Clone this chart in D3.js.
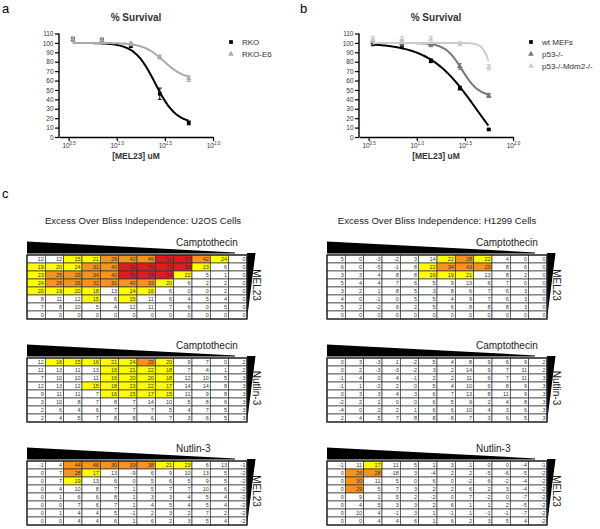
<!DOCTYPE html>
<html lang="en">
  <head>
    <meta charset="UTF-8" />
    <title>MEL23 survival and Bliss excess</title>
    <script src="https://d3js.org/d3.v7.min.js"></script>
    <style>
      body { margin: 0; background: #fff; }
      text { font-family: "Liberation Sans", Arial, sans-serif; }
    </style>
  </head>
  <body>
    <svg width="600" height="529" id="fig"></svg>

    <script>
      // ---- dose response data (uM, % survival) ----
      const conc = [3.5, 7, 14, 28, 56];
      const xTicks = [0.5, 1.0, 1.5, 2.0]; // log10 tick positions
      const yTicks = d3.range(0, 111, 10);

      const panelANames = ["RKO", "RKO-E6"];
      const rkoMean = [104, 103, 97, 46, 15];
      const rkoErr = [2, 2, 2, 6, 2];
      const rkoE6Mean = [104, 103, 99, 85, 62];
      const rkoE6Err = [2, 2, 2, 2, 3];

      const panelBNames = ["wt MEFs", "p53-/-", "p53-/-Mdm2-/-"];
      const wtMean = [99, 96, 81, 52, 8];
      const wtErr = [2, 2, 2, 2, 1];
      const p53Mean = [101, 100, 98, 75, 44];
      const p53Err = [3, 3, 2, 3, 2];
      const dkoMean = [104, 104, 104, 99, 74];
      const dkoErr = [3, 3, 3, 2, 3];

      // sigmoidal fit parameters per series: top, bottom, logEC50, hill
      const rkoFit = [100, 14, 1.4, 4];
      const rkoE6Fit = [100, 61, 1.49, 4.1];
      const wtFit = [100, -40, 1.617, 1.78];
      const p53Fit = [100, 43, 1.47, 5];
      const dkoFit = [100, 0, 1.81, 9.5];

      // ---- Excess over Bliss tables (8 rows x 12 cols) ----
      const u2osCampMel = [
        [12, 12, 15, 21, 26, 42, 49, 51, 57, 42, 24, 0],
        [19, 20, 24, 31, 40, 52, 70, 73, 58, 23, 6, 0],
        [23, 25, 29, 34, 40, 51, 59, 54, 22, 5, 1, 0],
        [24, 26, 26, 32, 31, 40, 33, 20, 6, 2, 2, 0],
        [20, 19, 20, 18, 13, 24, 16, 6, 0, 0, 2, 0],
        [8, 11, 12, 15, 6, 15, 11, 6, 4, 5, 4, 0],
        [7, 8, 10, 5, 4, 12, 11, 7, 6, 0, 5, 0],
        [0, 0, 0, 0, 0, 0, 0, 0, 0, 0, 0, 0]
      ];
      const u2osCampNut = [
        [12, 16, 15, 16, 21, 24, 25, 20, 9, 7, 0, 2],
        [11, 13, 11, 13, 16, 21, 22, 18, 7, 4, 1, 2],
        [7, 10, 10, 11, 16, 20, 20, 18, 12, 10, 5, 3],
        [12, 13, 12, 15, 18, 23, 22, 17, 14, 14, 8, 3],
        [9, 11, 11, 7, 16, 15, 17, 15, 11, 9, 8, 3],
        [3, 10, 8, 7, 8, 7, 14, 10, 5, 8, 6, 3],
        [2, 6, 4, 6, 7, 7, 7, 5, 4, 7, 5, 3],
        [2, 4, 5, 7, 8, 8, 6, 7, 3, 6, 5, 3]
      ];
      const u2osNutMel = [
        [-1, 4, 44, 46, 30, 33, 38, 21, 23, 6, 13, -1],
        [0, 7, 28, 17, 13, -9, 6, 9, 10, 13, 5, -2],
        [0, 7, 19, 13, 6, 0, 5, 6, 5, 9, 5, -2],
        [0, 4, 10, 8, 7, 1, 5, 7, 7, 10, 6, -2],
        [0, 1, 6, 6, 8, 1, 3, 3, 4, 5, 4, -2],
        [0, 0, 7, 6, 7, 1, 4, 5, 4, 5, 4, -2],
        [0, 1, 4, 4, 5, -1, 2, 3, 2, 7, 2, -2],
        [0, 0, 4, 4, 6, 1, 6, 2, 3, 5, 4, -2]
      ];
      const h1299CampMel = [
        [5, 0, -3, -2, 3, 14, 22, 28, 22, 4, 0, 0],
        [6, 0, -5, -1, 8, 22, 34, 43, 29, 8, 6, 0],
        [3, 3, 4, 8, 8, 16, 19, 21, 13, 8, 2, 0],
        [5, 4, 4, 7, 6, 5, 9, 13, 6, 7, 0, 0],
        [3, 2, 1, 8, 5, 3, 8, 6, 7, 6, 3, 0],
        [4, 0, -1, 0, 5, 5, 4, 9, 7, 6, 3, 0],
        [5, 2, -2, 6, 2, 5, 6, 8, 8, 8, 3, 0],
        [0, 0, 0, 0, 0, 0, 0, 0, 0, 0, 0, 0]
      ];
      const h1299CampNut = [
        [0, 3, -3, 1, -2, 5, 4, 8, 9, 6, 9, 2],
        [0, 2, -3, -3, -2, 3, 2, 14, 9, 7, 11, 2],
        [-1, 4, 0, 4, -1, 2, 2, 11, 6, 7, 11, 3],
        [-1, 1, -2, 2, 0, 5, 4, 10, 6, 8, 9, 3],
        [0, 3, 3, 4, 3, 6, 7, 13, 8, 11, 9, 3],
        [-2, 2, 1, 0, 0, 6, 5, 9, 2, 4, 8, 3],
        [-4, 0, 2, 2, 1, 6, 6, 10, 4, 3, 6, 3],
        [2, 4, 5, 7, 8, 8, 8, 7, 3, 6, 5, 3]
      ];
      const h1299NutMel = [
        [-1, 11, 17, 11, 5, 1, 3, 1, 0, 0, -4, -1],
        [0, 26, 28, -18, 3, -4, 2, 2, -5, -6, -5, -2],
        [0, 30, 11, 5, 0, 6, 0, -2, 6, -2, -4, -2],
        [0, 29, 5, 7, 3, 2, 2, 6, 2, 3, -4, -2],
        [0, 9, 1, 5, 2, -2, 0, 7, -2, 0, -7, -2],
        [0, 4, 5, 3, 3, 2, 6, 1, 1, 2, -5, -2],
        [0, 10, 4, -1, 3, 1, -1, 1, -1, -1, -7, -2],
        [0, 0, 4, 4, 6, 1, 6, 2, 3, 5, 4, -2]
      ];
      const tableTitles = [
        "Excess Over Bliss Independence: U2OS Cells",
        "Excess Over Bliss Independence: H1299 Cells"
      ];
      const topDrugs = ["Camptothecin", "Camptothecin", "Nutlin-3"];
      const sideDrugs = ["MEL23", "Nutlin-3", "MEL23"];

      const svg = d3.select("#fig");

      // panel letters
      svg.append("text").attr("x", 2).attr("y", 13).attr("font-size", 13).text("a");
      svg.append("text").attr("x", 300).attr("y", 13).attr("font-size", 13).text("b");
      svg.append("text").attr("x", 2).attr("y", 198).attr("font-size", 13).text("c");

      // ---------- dose-response charts ----------
      function drawDose(ox, series) {
        const g = svg.append("g").attr("transform", "translate(" + ox + ",0)");
        const x = d3.scaleLinear().domain([0.4, 2.0]).range([59, 213]);
        const y = d3.scaleLinear().domain([0, 110]).range([137, 33.5]);

        g.append("text")
          .attr("x", 136).attr("y", 21)
          .attr("text-anchor", "middle")
          .attr("font-size", 10).attr("font-weight", "bold").attr("fill", "#333")
          .text("% Survival");
        g.append("text")
          .attr("x", 136).attr("y", 159)
          .attr("text-anchor", "middle")
          .attr("font-size", 8.5).attr("font-weight", "bold").attr("fill", "#333")
          .text("[MEL23] uM");

        const yAxis = g.append("g")
          .attr("transform", "translate(59,0)")
          .call(d3.axisLeft(y).tickValues(yTicks).tickSize(4).tickPadding(1.5));
        const xAxis = g.append("g")
          .attr("transform", "translate(0,137)")
          .call(d3.axisBottom(x).tickValues(xTicks).tickSize(4).tickPadding(2).tickSizeOuter(0));
        [yAxis, xAxis].forEach((a) => {
          a.select(".domain").attr("stroke-width", 1.4);
          a.selectAll(".tick line").attr("stroke-width", 1.2);
          a.selectAll("text").attr("font-size", 6.5).attr("fill", "#333")
            .attr("font-family", "'Liberation Sans', Arial, sans-serif");
        });
        yAxis.select(".domain").attr("d", "M0," + y(110) + "V" + y(0));
        xAxis.selectAll(".tick text").each(function (d) {
          const t = d3.select(this).text("");
          t.append("tspan").text("10");
          t.append("tspan").attr("font-size", 4.5).attr("dy", -3).text(d.toFixed(1));
        });

        const lx = d3.range(Math.log10(conc[0]), Math.log10(conc[conc.length - 1]) + 0.001, 0.01);
        const line = d3.line().x((d) => x(d[0])).y((d) => y(d[1])).curve(d3.curveBasis);

        series.forEach((s, i) => {
          const [top, bottom, ec, hill] = s.fit;
          const pts = lx.map((v) => [v, bottom + (top - bottom) / (1 + Math.pow(10, (ec - v) * -hill))]);
          g.append("path").datum(pts)
            .attr("d", line).attr("fill", "none")
            .attr("stroke", s.color).attr("stroke-width", 2);

          const eb = g.append("g").attr("stroke", s.color).attr("stroke-width", 1);
          conc.forEach((c, j) => {
            const cx = x(Math.log10(c));
            const m = s.mean[j], e = s.err[j];
            eb.append("line").attr("x1", cx).attr("x2", cx).attr("y1", y(m - e)).attr("y2", y(m + e));
            eb.append("line").attr("x1", cx - 2).attr("x2", cx + 2).attr("y1", y(m - e)).attr("y2", y(m - e));
            eb.append("line").attr("x1", cx - 2).attr("x2", cx + 2).attr("y1", y(m + e)).attr("y2", y(m + e));
          });
          const sym = d3.symbol().type(s.shape).size(14);
          g.selectAll(null).data(conc).join("path")
            .attr("transform", (c, j) => "translate(" + x(Math.log10(c)) + "," + y(s.mean[j]) + ")")
            .attr("d", sym).attr("fill", s.color);

          // legend
          const ly = 42 + i * 12;
          g.append("path").attr("transform", "translate(231," + ly + ")")
            .attr("d", sym).attr("fill", s.color);
          g.append("text").attr("x", 242).attr("y", ly + 3)
            .attr("font-size", 8).attr("fill", "#333").text(s.name);
        });
      }

      drawDose(0, [
        { name: panelANames[0], mean: rkoMean, err: rkoErr, fit: rkoFit, color: "#000", shape: d3.symbolSquare },
        { name: panelANames[1], mean: rkoE6Mean, err: rkoE6Err, fit: rkoE6Fit, color: "#aaa", shape: d3.symbolTriangle }
      ]);
      drawDose(300, [
        { name: panelBNames[0], mean: wtMean, err: wtErr, fit: wtFit, color: "#000", shape: d3.symbolSquare },
        { name: panelBNames[1], mean: p53Mean, err: p53Err, fit: p53Fit, color: "#777", shape: d3.symbolTriangle },
        { name: panelBNames[2], mean: dkoMean, err: dkoErr, fit: dkoFit, color: "#ccc", shape: d3.symbolTriangle }
      ]);

      // ---------- heat tables ----------
      const color = d3.scaleThreshold()
        .domain([15, 25, 50])
        .range(["#ffffff", "#ffff00", "#f7941d", "#e01b22"]);

      svg.append("text").attr("x", 143).attr("y", 224).attr("text-anchor", "middle")
        .attr("font-size", 9.6).attr("fill", "#222").text(tableTitles[0]);
      svg.append("text").attr("x", 437).attr("y", 224).attr("text-anchor", "middle")
        .attr("font-size", 9.6).attr("fill", "#222").text(tableTitles[1]);

      function drawTable(values, x0, top, topLabel, sideLabel) {
        const g = svg.append("g");
        const w = 220, h = 64;
        const cx = d3.scaleBand().domain(d3.range(values[0].length)).range([x0, x0 + w]);
        const ry = d3.scaleBand().domain(d3.range(values.length)).range([top, top + h]);

        // dose wedges
        g.append("polygon")
          .attr("points", [[x0, top - 13.5], [x0 + 208, top - 2.6], [x0 + 208, top - 1.6], [x0, top - 1.6]].join(" "))
          .attr("fill", "#000");
        g.append("polygon")
          .attr("points", [[x0 + w, top - 2], [x0 + w + 8.5, top - 2], [x0 + w, top + h]].join(" "))
          .attr("fill", "#000");

        g.append("text").attr("x", x0 + 149).attr("y", top - 9)
          .attr("font-size", 10).attr("fill", "#222").text(topLabel);
        g.append("text")
          .attr("transform", "translate(" + (x0 + w + 6) + "," + (top + h / 2 - 2) + ") rotate(90)")
          .attr("text-anchor", "middle")
          .attr("font-size", 10).attr("fill", "#222").text(sideLabel);

        const rows = g.selectAll(null).data(values).join("g");
        rows.selectAll("rect").data((r, i) => r.map((v, j) => ({ v, i, j }))).join("rect")
          .attr("x", (d) => cx(d.j)).attr("y", (d) => ry(d.i))
          .attr("width", cx.bandwidth()).attr("height", ry.bandwidth())
          .attr("fill", (d) => color(d.v))
          .attr("stroke", "#333").attr("stroke-width", 0.7);
        rows.selectAll("text").data((r, i) => r.map((v, j) => ({ v, i, j }))).join("text")
          .attr("x", (d) => cx(d.j) + cx.bandwidth() - 1.5)
          .attr("y", (d) => ry(d.i) + ry.bandwidth() / 2 + 2)
          .attr("text-anchor", "end")
          .attr("font-size", 5.5).attr("fill", "#333")
          .text((d) => d.v);
        g.append("rect").attr("x", x0).attr("y", top).attr("width", w).attr("height", h)
          .attr("fill", "none").attr("stroke", "#222").attr("stroke-width", 1.3);
      }

      const tops = [255, 358, 461];
      [u2osCampMel, u2osCampNut, u2osNutMel].forEach((t, k) =>
        drawTable(t, 27, tops[k], topDrugs[k], sideDrugs[k]));
      [h1299CampMel, h1299CampNut, h1299NutMel].forEach((t, k) =>
        drawTable(t, 327, tops[k], topDrugs[k], sideDrugs[k]));
    </script>
  </body>
</html>
